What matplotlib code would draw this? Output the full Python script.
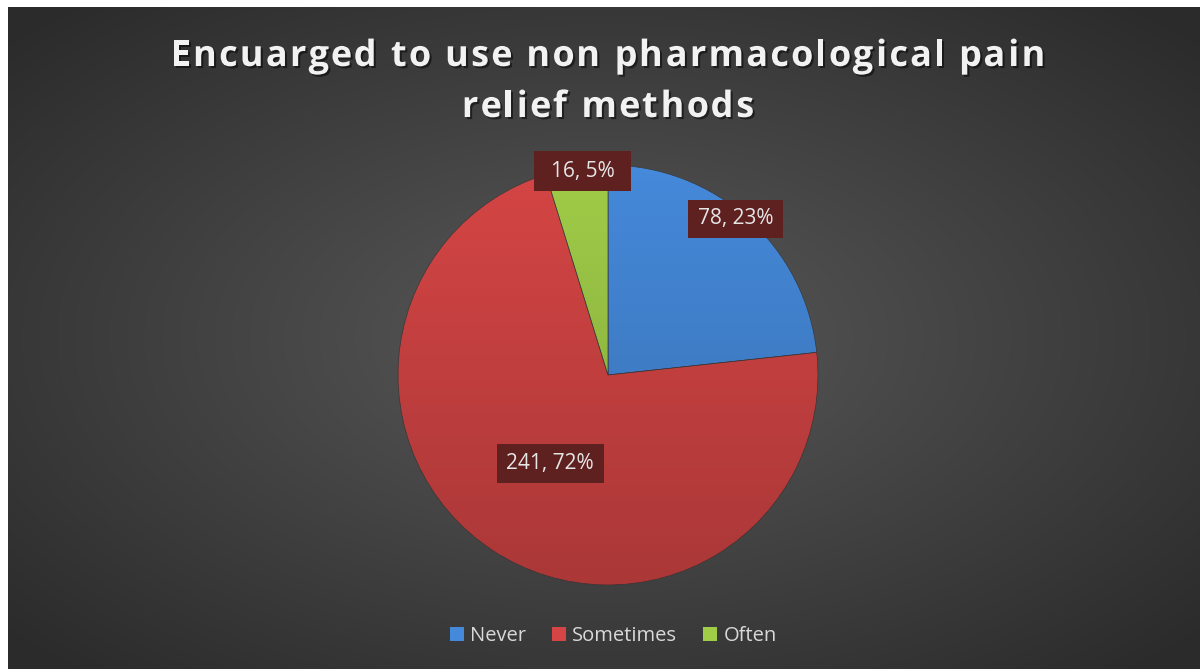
import numpy as np
import matplotlib
matplotlib.use("Agg")
from matplotlib import pyplot as plt
from matplotlib.patches import Patch, Rectangle, Circle
import matplotlib.patheffects as pe

categories = ["Never", "Sometimes", "Often"]
counts = [78, 241, 16]
percents = [23, 72, 5]
colors = ["#4589da", "#d54545", "#a0cc48"]

# label placement: distance from centre (radii), angle nudge (deg), box size (px)
label_dist = [0.96, 0.502, 0.977]
label_shift = [2.7, 0.0, -1.5]
box_px = [(95, 38), (107, 39), (97, 40)]

title_lines = ["Encuarged to use non pharmacological pain", "relief methods"]

fig = plt.figure(figsize=(12, 6.69), dpi=100)
fig.patch.set_facecolor("white")

# dark radial gradient background (leaves a thin white margin top/left)
bg = fig.add_axes([8/1200, 0, 1 - 8/1200, 1 - 7/669])
yy, xx = np.mgrid[-1:1:300j, -1:1:500j]
r = np.sqrt(xx**2 + yy**2)
shade = 0.35 - 0.18*np.clip(r/1.35, 0, 1)
bg.imshow(np.dstack([shade, shade, shade]), extent=[0, 1, 0, 1], aspect="auto")
bg.set_axis_off()

# title with letter spacing, drawn char by char
fig.canvas.draw()
renderer = fig.canvas.get_renderer()
tkw = dict(color="#f2f2f2", fontsize=26, fontweight="bold", family="Open Sans",
           path_effects=[pe.withSimplePatchShadow(offset=(1.5, -1.5), shadow_rgbFace="black", alpha=0.5)])

def width_of(s):
    t = fig.text(0, 0, s + "x", **tkw)
    x = fig.text(0, 0, "x", **tkw)
    w = t.get_window_extent(renderer).width - x.get_window_extent(renderer).width
    t.remove(); x.remove()
    return w

spacing = 2.2
for line, ypix in zip(title_lines, [57, 108]):
    total = width_of(line) + spacing*(len(line) - 1)
    x0 = 608 - total/2
    for i, ch in enumerate(line):
        off = width_of(line[:i]) if i else 0
        fig.text((x0 + off + spacing*i)/1200, 1 - ypix/669, ch, ha="left", va="center", **tkw)

ax = fig.add_axes([(608-210)/1200, (294-210)/669, 420/1200, 420/669])
wedges, _ = ax.pie(counts, colors=colors, startangle=90, counterclock=False, radius=1,
                   wedgeprops=dict(edgecolor="#3a3a3a", linewidth=0.5))
# soft top-to-bottom shading over the pie
gy = np.linspace(0, 1, 200)[:, None] * np.ones((1, 2))
overlay = np.zeros((200, 2, 4))
overlay[..., 3] = 0.2 * gy
im = ax.imshow(overlay, extent=[-1, 1, -1, 1], aspect="auto", zorder=3)
im.set_clip_path(Circle((0, 0), 1, transform=ax.transData))
ax.set_xlim(-1, 1)
ax.set_ylim(-1, 1)
ax.set_axis_off()

for wdg, c, p, d, s, (bw, bh) in zip(wedges, counts, percents, label_dist, label_shift, box_px):
    ang = np.deg2rad((wdg.theta1 + wdg.theta2)/2 + s)
    lx, ly = d*np.cos(ang), d*np.sin(ang)
    w, h = bw/210, bh/210
    ax.add_patch(Rectangle((lx - w/2, ly - h/2), w, h, facecolor="#5f2020",
                           edgecolor="none", zorder=4, clip_on=False))
    ax.text(lx, ly, f"{c}, {p}%", ha="center", va="center", zorder=5,
            color="#e6e6e6", fontsize=15, family="Open Sans")

handles = [Patch(facecolor=col, edgecolor="none") for col in colors]
leg = fig.legend(handles, categories, loc="center", bbox_to_anchor=(0.511, 1 - 636/669),
                 ncol=3, frameon=False, handlelength=0.7, handleheight=0.7,
                 handletextpad=0.3, columnspacing=1.3, prop={"family": "Open Sans", "size": 14.5})
for t in leg.get_texts():
    t.set_color("#d9d9d9")

plt.savefig("out.png", dpi=100, facecolor=fig.get_facecolor())
